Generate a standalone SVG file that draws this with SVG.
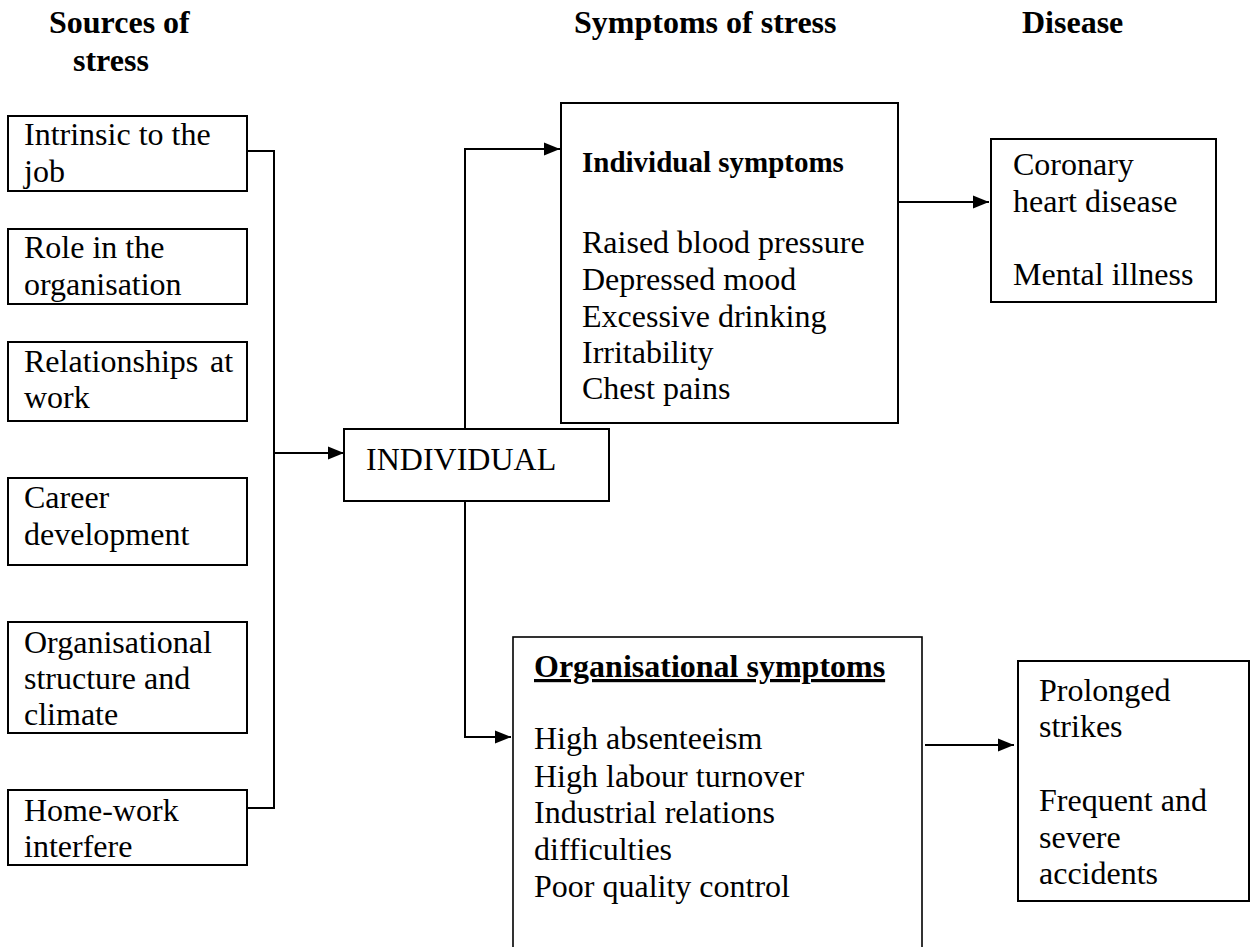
<svg xmlns="http://www.w3.org/2000/svg" width="1255" height="947" viewBox="0 0 1255 947">
<style>
text{font-family:"Liberation Serif","Times New Roman",Tinos,"Nimbus Roman","DejaVu Serif",serif;font-size:32px;font-weight:normal;font-style:normal;fill:#000}
.h{font-weight:bold}
.box{fill:#fff;stroke:#000;stroke-width:2}
.con{fill:none;stroke:#000;stroke-width:2}
</style>
<defs>
<marker id="ah" markerUnits="userSpaceOnUse" markerWidth="17" markerHeight="14" refX="16" refY="7" orient="auto">
<path d="M0,0.5 L16,7 L0,13.5 Z" fill="#000"/>
</marker>
</defs>
<rect width="1255" height="947" fill="#fff"/>
<g id="headers">
<text class="h" x="49" y="33">Sources of</text>
<text class="h" x="73" y="71">stress</text>
<text class="h" x="574" y="33">Symptoms of stress</text>
<text class="h" x="1022" y="33">Disease</text>
</g>
<g id="connectors">
<polyline class="con" points="247,151 274,151 274,808 247,808"/>
<line class="con" x1="274" y1="453" x2="344" y2="453" marker-end="url(#ah)"/>
<polyline class="con" points="465,429 465,149 560,149" marker-end="url(#ah)"/>
<polyline class="con" points="465,501 465,737 511,737" marker-end="url(#ah)"/>
<line class="con" x1="898" y1="202" x2="989" y2="202" marker-end="url(#ah)"/>
<line class="con" x1="925" y1="745" x2="1014" y2="745" marker-end="url(#ah)"/>
</g>
<g id="src1"><rect class="box" x="8" y="116" width="239" height="75"/><text x="24" y="145">Intrinsic to the</text><text x="24" y="182">job</text></g>
<g id="src2"><rect class="box" x="8" y="229" width="239" height="75"/><text x="24" y="258">Role in the</text><text x="24" y="295">organisation</text></g>
<g id="src3"><rect class="box" x="8" y="342" width="239" height="79"/><text x="24" y="372">Relationships</text><text x="210" y="372">at</text><text x="24" y="408">work</text></g>
<g id="src4"><rect class="box" x="8" y="478" width="239" height="87"/><text x="24" y="508">Career</text><text x="24" y="545">development</text></g>
<g id="src5"><rect class="box" x="8" y="622" width="239" height="111"/><text x="24" y="653">Organisational</text><text x="24" y="689">structure and</text><text x="24" y="725">climate</text></g>
<g id="src6"><rect class="box" x="8" y="790" width="239" height="75"/><text x="24" y="821">Home-work</text><text x="24" y="857">interfere</text></g>
<g id="individual"><rect class="box" x="344" y="429" width="265" height="72"/><text x="366" y="470">INDIVIDUAL</text></g>
<g id="indsym"><rect class="box" x="561" y="103" width="337" height="320"/>
<text class="h" x="582" y="172" style="font-size:29px">Individual symptoms</text>
<text x="582" y="253">Raised blood pressure</text>
<text x="582" y="290">Depressed mood</text>
<text x="582" y="327">Excessive drinking</text>
<text x="582" y="363">Irritability</text>
<text x="582" y="399">Chest pains</text>
</g>
<g id="orgsym"><rect class="box" x="513" y="637" width="409" height="330" style="stroke-width:1.6"/>
<text class="h" x="534" y="677" text-decoration="underline">Organisational symptoms</text>
<text x="534" y="749">High absenteeism</text>
<text x="534" y="787">High labour turnover</text>
<text x="534" y="823">Industrial relations</text>
<text x="534" y="860">difficulties</text>
<text x="534" y="897">Poor quality control</text>
</g>
<g id="disease1"><rect class="box" x="991" y="139" width="225" height="163"/>
<text x="1013" y="175">Coronary</text><text x="1013" y="212">heart disease</text><text x="1013" y="285">Mental illness</text></g>
<g id="disease2"><rect class="box" x="1018" y="661" width="231" height="240"/>
<text x="1039" y="701">Prolonged</text><text x="1039" y="737">strikes</text><text x="1039" y="811">Frequent and</text><text x="1039" y="848">severe</text><text x="1039" y="884">accidents</text></g>
</svg>
